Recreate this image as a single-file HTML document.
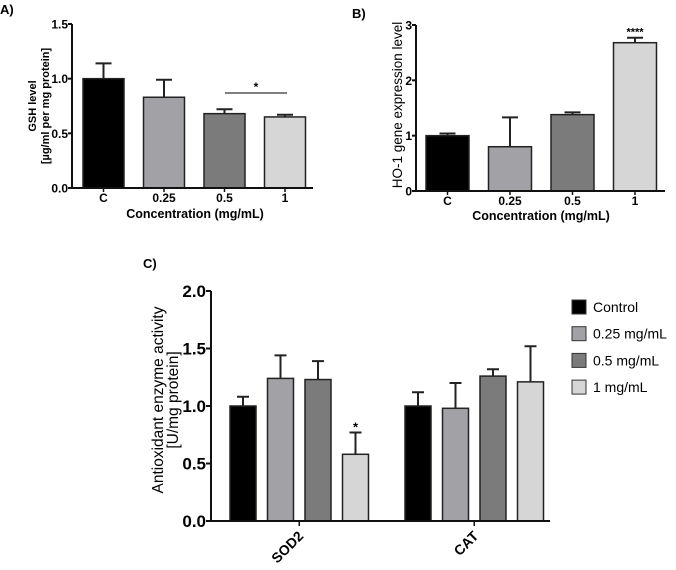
<!DOCTYPE html>
<html><head><meta charset="utf-8"><style>
body{margin:0;background:#fff;}
svg{display:block;font-family:"Liberation Sans",Arial,sans-serif;}
</style></head><body>
<svg id="s" width="676" height="570" viewBox="0 0 676 570" xmlns="http://www.w3.org/2000/svg"></svg>
<script>
// Panel A data
const aCats = ["C","0.25","0.5","1"];
const aVals = [1.0, 0.83, 0.68, 0.65];
const aErr  = [0.14, 0.16, 0.04, 0.02];
const aTicks = [0, 0.5, 1.0, 1.5];
const aTickLabels = ["0.0","0.5","1.0","1.5"];
// Panel B data
const bCats = ["C","0.25","0.5","1"];
const bVals = [1.0, 0.8, 1.38, 2.68];
const bErr  = [0.04, 0.53, 0.04, 0.09];
const bTicks = [0,1,2,3];
const bTickLabels = ["0","1","2","3"];
// Panel C data
const cGroups = ["SOD2","CAT"];
const cSeries = ["Control","0.25 mg/mL","0.5 mg/mL","1 mg/mL"];
const cSod2 = [1.0, 1.24, 1.23, 0.58];
const cSod2Err = [0.08, 0.20, 0.16, 0.19];
const cCat = [1.0, 0.98, 1.26, 1.21];
const cCatErr = [0.12, 0.22, 0.06, 0.31];
const cTicks = [0,0.5,1.0,1.5,2.0];
const cTickLabels = ["0.0","0.5","1.0","1.5","2.0"];

const colors = ["#000000","#a2a2a6","#7b7b7b","#d6d6d6"];
const NS="http://www.w3.org/2000/svg";
const svg=document.getElementById('s');
function mk(tag,attrs,parent){const e=document.createElementNS(NS,tag);for(const k in attrs)e.setAttribute(k,attrs[k]);(parent||svg).appendChild(e);return e;}
function txt(x,y,s,attrs){const e=mk('text',Object.assign({x:x,y:y},attrs||{}));e.textContent=s;return e;}

function simplePanel(o){
  const g=mk('g',{});
  
  
  const y=v=>o.y0-(v/o.max)*(o.y0-o.yTop);
  o.vals.forEach((v,i)=>{
    const x=o.barX0+i*o.step;
    const cx=x+o.bw/2;
    const top=y(v+o.err[i]);
    const eb=mk('path',{d:`M${cx} ${y(v)}V${top}M${cx-8} ${top}H${cx+8}`,stroke:'#222','stroke-width':2,fill:'none'},g);
    
    
    const r=mk('rect',{x:x,y:y(v),width:o.bw,height:o.y0-y(v),fill:colors[i],stroke:'#222','stroke-width':1.5},g);
    
    
    const t=txt(cx,o.y0+14,o.cats[i],{'font-size':12,'font-weight':'bold','text-anchor':'middle'});
    g.appendChild(t);
    
    
  });
  const ax=mk('path',{d:`M${o.ax} ${o.yTop}V${o.y0}H${o.axEnd}`,stroke:'#111','stroke-width':2,fill:'none'},g);
  
  
  o.ticks.forEach((t,i)=>{
    mk('line',{x1:o.ax-4,x2:o.ax,y1:y(t),y2:y(t),stroke:'#111','stroke-width':2},g);
    const l=txt(o.ax-4,y(t)+4.5,o.tickLabels[i],{'font-size':12,'font-weight':'bold','text-anchor':'end'});
    g.appendChild(l);
    
    
  });
  o.vals.forEach((v,i)=>{const cx=o.barX0+i*o.step+o.bw/2;mk('line',{x1:cx,x2:cx,y1:o.y0,y2:o.y0+4,stroke:'#111','stroke-width':1.5},g);});
  return {g,y};
}

// Panel A
const A=simplePanel({name:'panel-a',cats:aCats,vals:aVals,err:aErr,ticks:aTicks,tickLabels:aTickLabels,max:1.5,y0:188,yTop:24,ax:72,axEnd:313,barX0:83,step:60.5,bw:41});
let t=txt(0,14,'A)',{'font-size':13,'font-weight':'bold'});
t=txt(195,218,'Concentration (mg/mL)',{'font-size':12.5,'font-weight':'bold','text-anchor':'middle'});
t=txt(0,0,'GSH level',{'font-size':11,'font-weight':'bold','text-anchor':'middle',transform:'translate(36,106) rotate(-90)'});
t=txt(0,0,'[µg/ml per mg protein]',{'font-size':11,'font-weight':'bold','text-anchor':'middle',transform:'translate(49,106) rotate(-90)'});
mk('line',{x1:225,x2:287,y1:93,y2:93,stroke:'#333','stroke-width':1.2});
t=txt(256,91,'*',{'font-size':12,'font-weight':'bold','text-anchor':'middle'});

// Panel B
const B=simplePanel({name:'panel-b',cats:bCats,vals:bVals,err:bErr,ticks:bTicks,tickLabels:bTickLabels,max:3,y0:191,yTop:25,ax:416,axEnd:665,barX0:426,step:62.5,bw:43});
t=txt(352,18,'B)',{'font-size':13,'font-weight':'bold'});
t=txt(541,220,'Concentration (mg/mL)',{'font-size':12.5,'font-weight':'bold','text-anchor':'middle'});
t=txt(0,0,'HO-1 gene expression level',{'font-size':13.5,'text-anchor':'middle',transform:'translate(402,105) rotate(-90)'});
t=txt(426+3*62.5+21.5,B.y(bVals[3]+bErr[3])-2,'****',{'font-size':11,'font-weight':'bold','text-anchor':'middle'});

// Panel C
(function(){
  const g=mk('g',{});
  
  
  const y0=521,yTop=291,max=2,ax=211;
  const y=v=>y0-(v/max)*(y0-yTop);
  const groupX=[230,405],step=37.5,bw=26;
  const data=[[cSod2,cSod2Err],[cCat,cCatErr]];
  data.forEach((d,gi)=>{
    d[0].forEach((v,i)=>{
      const x=groupX[gi]+i*step,cx=x+bw/2,top=y(v+d[1][i]);
      const eb=mk('path',{d:`M${cx} ${y(v)}V${top}M${cx-6} ${top}H${cx+6}`,stroke:'#222','stroke-width':2,fill:'none'},g);
      
      
      const r=mk('rect',{x:x,y:y(v),width:bw,height:y0-y(v),fill:colors[i],stroke:'#222','stroke-width':1.5},g);
      
      
    });
    const cxg=groupX[gi]+(3*step+bw)/2;
    mk('line',{x1:cxg,x2:cxg,y1:y0,y2:y0+5,stroke:'#111','stroke-width':1.5},g);
    const l=txt(0,0,cGroups[gi],{'font-size':14,'font-weight':'bold','text-anchor':'end',transform:`translate(${cxg+5},${y0+16}) rotate(-45)`});
    g.appendChild(l);
    
    
  });
  const sx=groupX[0]+3*step+bw/2;
  const st=txt(sx,y(cSod2[3]+cSod2Err[3])-1,'*',{'font-size':13,'font-weight':'bold','text-anchor':'middle'});
  g.appendChild(st);
  
  
  const axp=mk('path',{d:`M${ax} ${yTop}V${y0}H550`,stroke:'#111','stroke-width':2,fill:'none'},g);
  
  
  cTicks.forEach((tv,i)=>{
    mk('line',{x1:ax-5,x2:ax,y1:y(tv),y2:y(tv),stroke:'#111','stroke-width':2},g);
    const l=txt(ax-5,y(tv)+6,cTickLabels[i],{'font-size':17,'font-weight':'bold','text-anchor':'end'});
    g.appendChild(l);
    
    
  });
  cSeries.forEach((s,i)=>{
    const yy=307+i*26.7;
    const r=mk('rect',{x:572,y:yy-7,width:14,height:14,fill:colors[i],stroke:'#333','stroke-width':1},g);
    
    
    const l=txt(593,yy+5,s,{'font-size':14},g);
    g.appendChild(l);
    
    
  });
})();
t=txt(143,268,'C)',{'font-size':13,'font-weight':'bold'});
t=txt(0,0,'Antioxidant enzyme activity',{'font-size':15.5,'text-anchor':'middle',transform:'translate(163,400) rotate(-90)'});
t=txt(0,0,'[U/mg protein]',{'font-size':15.5,'text-anchor':'middle',transform:'translate(178,400) rotate(-90)'});
</script>
</body></html>
